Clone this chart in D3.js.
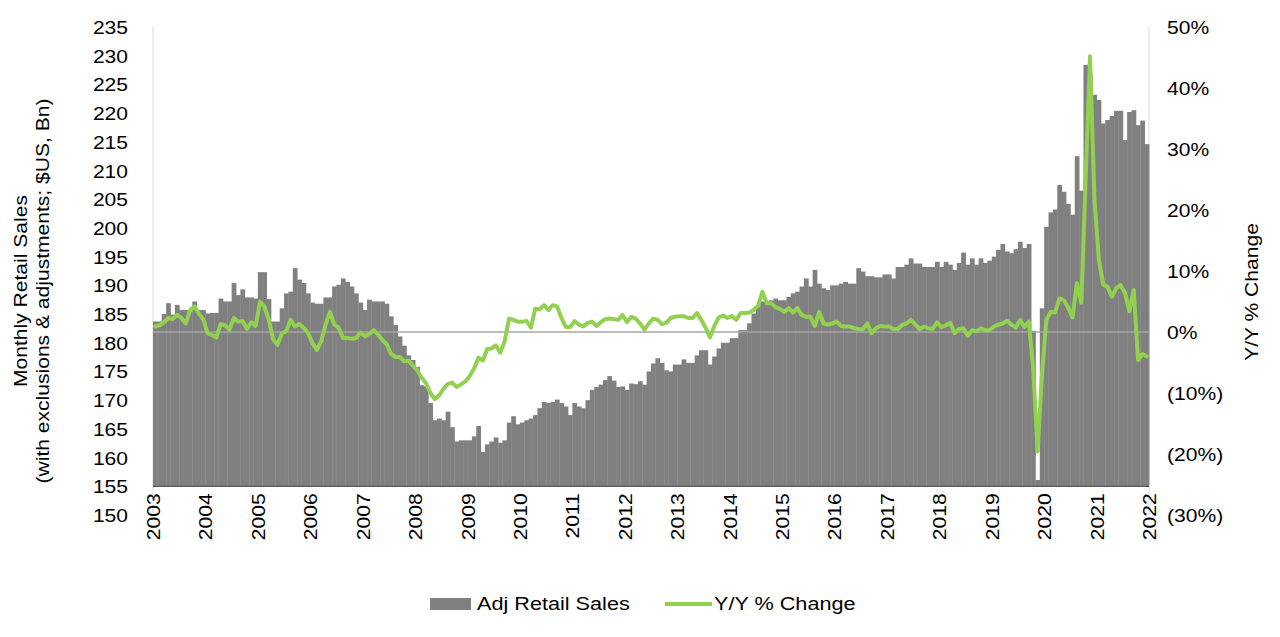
<!DOCTYPE html>
<html>
<head>
<meta charset="utf-8">
<script src="https://cdn.jsdelivr.net/npm/d3@7"></script>
<style>
  html, body { margin: 0; padding: 0; background: #fff; }
  svg { display: block; font-family: "Liberation Sans", Arial, sans-serif; }
</style>
</head>
<body>
<svg id="chart" width="1280" height="637"></svg>
<script>
// ---------------- DATA ----------------
// Monthly categories: Jun 2003 .. May 2022 (228 months)
const firstMonth = new Date(2003, 5, 1);
const endMonth = new Date(2022, 5, 1);
const yearLabels = ["2003","2004","2005","2006","2007","2008","2009","2010","2011","2012",
                    "2013","2014","2015","2016","2017","2018","2019","2020","2021","2022"];
const leftTicks = [150,155,160,165,170,175,180,185,190,195,200,205,210,215,220,225,230,235];
const rightTicks = [-30,-20,-10,0,10,20,30,40,50];

// Adj Retail Sales ($US Bn)
const sales = [
  183.7,183.7,185.0,186.9,184.9,186.6,185.7,185.7,185.4,187.2,185.7,185.7,
  185.1,185.2,185.2,187.7,187.2,187.2,190.4,188.3,189.3,187.9,187.9,187.7,
  192.3,192.3,187.6,183.7,183.7,186.0,188.6,188.9,193.0,191.0,190.4,188.6,
  187.0,186.8,186.8,187.9,187.9,189.8,190.1,191.2,190.6,189.8,188.6,187.0,
  185.7,187.5,187.2,187.2,187.2,186.8,184.6,183.1,181.1,179.5,177.8,177.0,
  175.8,172.6,172.4,169.5,166.5,166.8,166.5,168.0,165.3,162.8,163.0,163.0,
  163.0,163.7,165.5,161.0,162.3,162.8,163.5,162.6,163.0,166.1,167.2,165.8,
  166.1,166.5,166.8,167.4,168.6,169.7,169.5,169.7,170.1,169.5,168.9,167.4,
  169.5,168.9,168.6,170.0,171.8,172.3,172.7,173.5,174.2,173.4,172.3,172.4,
  171.8,172.9,172.8,173.3,172.7,175.0,176.4,177.3,176.5,175.2,175.0,176.2,
  176.2,177.1,176.5,176.5,177.8,178.7,178.7,176.2,177.6,179.0,180.0,180.0,
  180.8,180.8,182.2,182.2,183.4,185.1,186.3,187.2,187.2,187.4,187.7,187.4,
  187.4,188.0,188.6,188.9,189.8,191.2,189.8,192.7,190.3,189.5,189.2,190.0,
  190.0,190.3,190.6,190.3,190.3,193.0,192.4,191.6,191.6,191.4,191.4,191.9,
  191.9,191.2,193.2,193.2,193.6,194.7,193.8,193.8,193.2,193.2,193.2,194.1,
  193.2,194.1,193.6,192.7,193.9,195.7,193.6,194.7,193.6,194.7,193.9,194.3,
  195.0,196.2,197.2,195.9,195.6,196.3,197.6,196.5,197.2,182.1,156.1,186.0,
  200.2,202.7,203.2,207.5,206.3,204.2,202.3,212.5,206.5,228.4,226.6,223.2,
  222.3,218.2,218.8,219.5,220.4,220.4,215.3,220.2,220.5,217.9,218.7,214.6
];

// Y/Y % Change
const yoy = [
  0.9,1.1,1.6,2.3,2.1,2.8,2.3,1.4,3.6,4.2,3.0,2.1,
  -0.2,-0.5,-0.9,1.3,1.1,0.4,2.3,1.7,1.8,0.5,1.6,1.0,
  5.0,4.2,2.0,-1.2,-2.1,-0.2,0.1,2.0,0.9,1.3,0.7,-0.2,
  -1.8,-2.95,-1.5,1.2,3.3,1.2,0.7,-1.0,-1.0,-1.1,-1.0,-0.1,
  -0.7,-0.3,0.3,-0.4,-1.3,-2.0,-3.6,-4.1,-4.1,-4.8,-4.7,-5.5,
  -6.3,-7.5,-8.4,-10.0,-11.0,-10.4,-9.3,-8.5,-8.3,-9.0,-8.6,-8.1,
  -7.2,-6.0,-4.2,-4.7,-2.8,-2.7,-2.2,-3.4,-1.5,2.2,2.0,1.7,
  1.7,1.8,0.7,3.8,3.7,4.4,3.6,4.4,4.2,2.3,0.8,0.8,
  1.8,1.2,0.9,1.5,1.7,1.0,1.6,2.1,2.2,2.1,2.0,2.8,
  1.6,2.5,2.2,1.4,0.4,1.4,2.2,2.0,1.3,1.5,2.3,2.5,
  2.6,2.6,2.3,2.3,3.1,2.0,0.7,-0.9,1.0,2.4,2.7,2.3,
  2.6,2.0,3.1,3.1,3.2,3.6,4.3,6.6,4.7,4.7,4.1,3.8,
  3.3,3.9,3.2,3.9,2.8,2.5,2.5,1.0,3.3,1.4,1.2,1.4,
  1.7,1.0,0.9,0.9,0.6,0.5,0.45,1.4,-0.2,0.6,1.0,0.9,
  0.9,0.5,0.5,1.15,1.4,2.0,1.2,0.5,0.9,0.6,0.5,1.6,
  0.8,1.1,1.5,-0.2,0.5,0.6,-0.6,0.3,0.1,0.6,0.3,0.3,
  0.9,1.2,1.4,1.85,1.2,0.7,1.97,0.8,1.7,-6.0,-19.6,-7.0,
  2.0,3.3,3.2,5.5,5.2,4.0,2.4,8.0,4.8,25.0,45.2,22.0,
  12.0,7.8,7.4,5.8,7.2,7.7,6.4,3.4,6.9,-4.6,-3.6,-4.0
];

const seriesNames = ["Adj Retail Sales", "Y/Y % Change"];
const leftTitle = ["Monthly Retail Sales", "(with exclusions & adjustments; $US, Bn)"];
const rightTitle = "Y/Y % Change";

// ---------------- CHART ----------------
const months = d3.timeMonth.range(firstMonth, endMonth);
const data = months.map((m, i) => ({ m, sales: sales[i], yoy: yoy[i] }));

const svg = d3.select("#chart");
const L = 153, R = 1149, T = 27, B = 515;
const barBase = 155;
const SX = 1.17; // horizontal stretch of text glyphs
const FS = 18;

const x = d3.scaleBand().domain(months).range([L, R]).padding(0);
const xIdx = d3.scaleLinear().domain([0, months.length]).range([L, R]);
const yL = d3.scaleLinear().domain([150, 235]).range([B, T]);
const yR = d3.scaleLinear().domain([-30, 50]).range([B, T]);

const barColor = "#808080";
const lineColor = "#92d050";

// axis lines (light gray vertical)
svg.append("line").attr("x1", L).attr("x2", L).attr("y1", T).attr("y2", B)
  .attr("stroke", "#d9d9d9").attr("stroke-width", 1);
svg.append("line").attr("x1", R).attr("x2", R).attr("y1", T).attr("y2", B)
  .attr("stroke", "#d9d9d9").attr("stroke-width", 1);

// bars
svg.append("g").selectAll("rect").data(data).join("rect")
  .attr("x", d => x(d.m))
  .attr("width", x.bandwidth() + 0.4)
  .attr("y", d => yL(d.sales))
  .attr("height", d => yL(barBase) - yL(d.sales))
  .attr("fill", barColor);

// category axis at bar base
svg.append("line").attr("x1", L).attr("x2", R).attr("y1", yL(barBase)).attr("y2", yL(barBase))
  .attr("stroke", "#595959").attr("stroke-width", 1.2);

// secondary horizontal axis at 0%
svg.append("line").attr("x1", L).attr("x2", R).attr("y1", yR(0)).attr("y2", yR(0))
  .attr("stroke", "#a6a6a6").attr("stroke-width", 1.6);

// line
const line = d3.line()
  .x(d => x(d.m) + x.bandwidth() / 2)
  .y(d => yR(d.yoy));
svg.append("path").datum(data)
  .attr("d", line)
  .attr("fill", "none")
  .attr("stroke", lineColor)
  .attr("stroke-width", 4)
  .attr("stroke-linejoin", "round")
  .attr("stroke-linecap", "round");

// left axis
const gL = svg.append("g").attr("transform", `translate(${L},0)`)
  .call(d3.axisLeft(yL).tickValues(leftTicks).tickSize(0).tickFormat(d3.format("d")));
gL.select(".domain").remove();
gL.selectAll("text")
  .attr("x", 0).attr("dy", "0.36em")
  .attr("transform", `translate(-25,0) scale(${SX},1)`)
  .attr("font-size", FS).attr("fill", "#000")
  .attr("font-family", "Liberation Sans, Arial, sans-serif");

// right axis
const pct = v => v < 0 ? `(${Math.abs(v)}%)` : `${v}%`;
const gR = svg.append("g").attr("transform", `translate(${R},0)`)
  .call(d3.axisRight(yR).tickValues(rightTicks).tickSize(0).tickFormat(pct));
gR.select(".domain").remove();
gR.selectAll("text")
  .attr("x", 0).attr("dy", "0.36em")
  .attr("transform", `translate(18,0) scale(${SX},1)`)
  .attr("font-size", FS).attr("fill", "#000")
  .attr("font-family", "Liberation Sans, Arial, sans-serif");

// bottom axis (year labels at every 12th category boundary)
const gB = svg.append("g").attr("transform", `translate(0,${yL(barBase)})`)
  .call(d3.axisBottom(xIdx).tickValues(d3.range(0, months.length + 1, 12))
    .tickSize(0).tickFormat((d, i) => yearLabels[i]));
gB.select(".domain").remove();
gB.selectAll("text")
  .attr("x", 0).attr("y", 0).attr("dy", "0.36em")
  .attr("text-anchor", "end")
  .attr("transform", `translate(0,7) rotate(-90) scale(${SX},1)`)
  .attr("font-size", FS).attr("fill", "#000")
  .attr("font-family", "Liberation Sans, Arial, sans-serif");

// axis titles
function vtext(txt, cx, cy) {
  svg.append("text")
    .attr("transform", `translate(${cx},${cy}) rotate(-90) scale(${SX},1)`)
    .attr("text-anchor", "middle").attr("dy", "0.35em")
    .attr("font-size", FS).attr("fill", "#000")
    .text(txt);
}
vtext(leftTitle[0], 21, 291);
vtext(leftTitle[1], 43, 291);
vtext(rightTitle, 1252, 292);

// legend
const lg = svg.append("g");
lg.append("rect").attr("x", 430).attr("y", 598).attr("width", 41).attr("height", 12).attr("fill", barColor);
lg.append("text").attr("transform", `translate(477,610) scale(${SX},1)`)
  .attr("font-size", 18.5).attr("fill", "#000").text(seriesNames[0]);
lg.append("line").attr("x1", 665).attr("x2", 712).attr("y1", 604).attr("y2", 604)
  .attr("stroke", lineColor).attr("stroke-width", 4);
lg.append("text").attr("transform", `translate(714,610) scale(${SX},1)`)
  .attr("font-size", 18.5).attr("fill", "#000").text(seriesNames[1]);
</script>
</body>
</html>
